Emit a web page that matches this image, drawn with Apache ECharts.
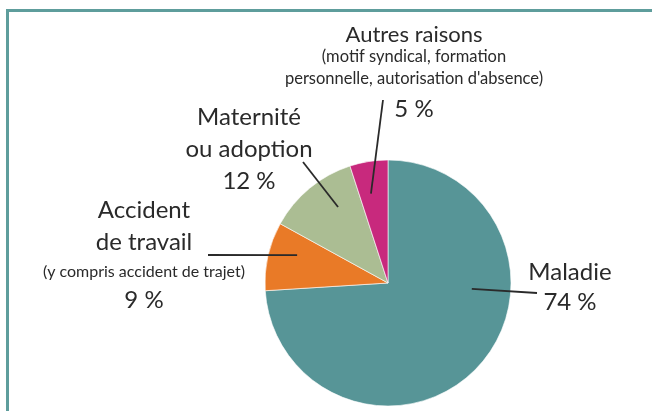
<!DOCTYPE html>
<html>
<head>
<meta charset="utf-8">
<script src="https://cdn.jsdelivr.net/npm/echarts@6/dist/echarts.min.js"></script>
<style>
  html, body { margin: 0; padding: 0; background: #fff; }
  #chart { width: 652px; height: 411px; }
</style>
</head>
<body>
<div id="chart"></div>
<script>
// data
const categories = ['Maladie', 'Accident de travail', 'Maternité ou adoption', 'Autres raisons'];
const shares = [74, 9, 12, 5];
const titleLines = [['Maladie'], ['Accident', 'de travail'], ['Maternité', 'ou adoption'], ['Autres raisons']];
const notes = [[], ['(y compris accident de trajet)'], [], ['(motif syndical, formation', "personnelle, autorisation d'absence)"]];

// styling / callout layout
const colors = ['#579597', '#e97a27', '#abbd93', '#c8297d'];
const labelPos = [[570, 256], [144, 194], [249, 101], [414, 24]];
const titleStyle = ['t', 't', 't', 'ts'];
const noteStyle = ['n', 'n', 'n', 'ns'];
const valueStyle = ['v', 'v', 'vl', 'vx'];
const leaderInner = [[94, 84], [287, 95], [326.7, 91], [349.2, 91]]; // angle from top (cw), radius
const leaderOuter = [[537, 293], [208, 255], [303, 162], [383, 100]];

const CX = 388, CY = 283, R = 123;
const FONT = 'Lato, "Liberation Sans", sans-serif';
const INK = '#2a2a2a';

const chart = echarts.init(document.getElementById('chart'));

function labelText(i) {
  const rows = [];
  titleLines[i].forEach(l => rows.push('{' + titleStyle[i] + '|' + l + '}'));
  notes[i].forEach(l => rows.push('{' + noteStyle[i] + '|' + l + '}'));
  rows.push('{' + valueStyle[i] + '|' + shares[i] + ' %}');
  return rows.join('\n');
}

function leaderPoints(i) {
  const a = leaderInner[i][0] * Math.PI / 180;
  const r = leaderInner[i][1];
  return [
    [CX + r * Math.sin(a), CY - r * Math.cos(a)],
    leaderOuter[i],
    leaderOuter[i]
  ];
}

const pieData = categories.map((c, i) => ({ name: c, value: shares[i] }));
const rich = {
  t: { fontSize: 24, lineHeight: 32 },
  ts: { fontSize: 22, lineHeight: 22 },
  n: { fontSize: 16, lineHeight: 28 },
  ns: { fontSize: 16.5, lineHeight: 22 },
  v: { fontSize: 24, lineHeight: 28 },
  vl: { fontSize: 24, lineHeight: 32 },
  vx: { fontSize: 24, lineHeight: 38 }
};
Object.keys(rich).forEach(k => Object.assign(rich[k], { fontFamily: FONT, color: INK, align: 'center' }));

const option = {
  animation: false,
  backgroundColor: '#fff',
  graphic: [
    { type: 'rect', shape: { x: 6, y: 9, width: 3, height: 402 }, style: { fill: '#5e9d9c' } },
    { type: 'rect', shape: { x: 6, y: 9, width: 646, height: 3 }, style: { fill: '#5e9d9c' } }
  ],
  series: [
    {
      type: 'pie',
      z: 2,
      center: [CX, CY],
      radius: R,
      startAngle: 90,
      clockwise: true,
      silent: true,
      label: { show: false },
      labelLine: { show: false },
      itemStyle: { borderColor: 'rgba(255,255,255,0.6)', borderWidth: 1 },
      data: pieData.map((d, i) => ({ ...d, itemStyle: { color: colors[i] } }))
    },
    {
      // transparent copy on top, carries the callouts so the leader lines sit over the slices
      type: 'pie',
      z: 5,
      center: [CX, CY],
      radius: R,
      startAngle: 90,
      clockwise: true,
      silent: true,
      avoidLabelOverlap: false,
      itemStyle: { color: 'rgba(0,0,0,0)', borderWidth: 0 },
      data: pieData,
      label: {
        show: true,
        width: 320,
        align: 'center',
        color: INK,
        fontFamily: FONT,
        formatter: p => labelText(p.dataIndex),
        rich: rich
      },
      labelLine: { show: true, length: 10, length2: 10, lineStyle: { color: INK, width: 1.8 } },
      labelLayout: p => ({
        x: labelPos[p.dataIndex][0],
        y: labelPos[p.dataIndex][1],
        align: 'center',
        verticalAlign: 'top',
        labelLinePoints: leaderPoints(p.dataIndex)
      })
    }
  ]
};

chart.setOption(option);
window.addEventListener('resize', () => chart.resize());
</script>
</body>
</html>
